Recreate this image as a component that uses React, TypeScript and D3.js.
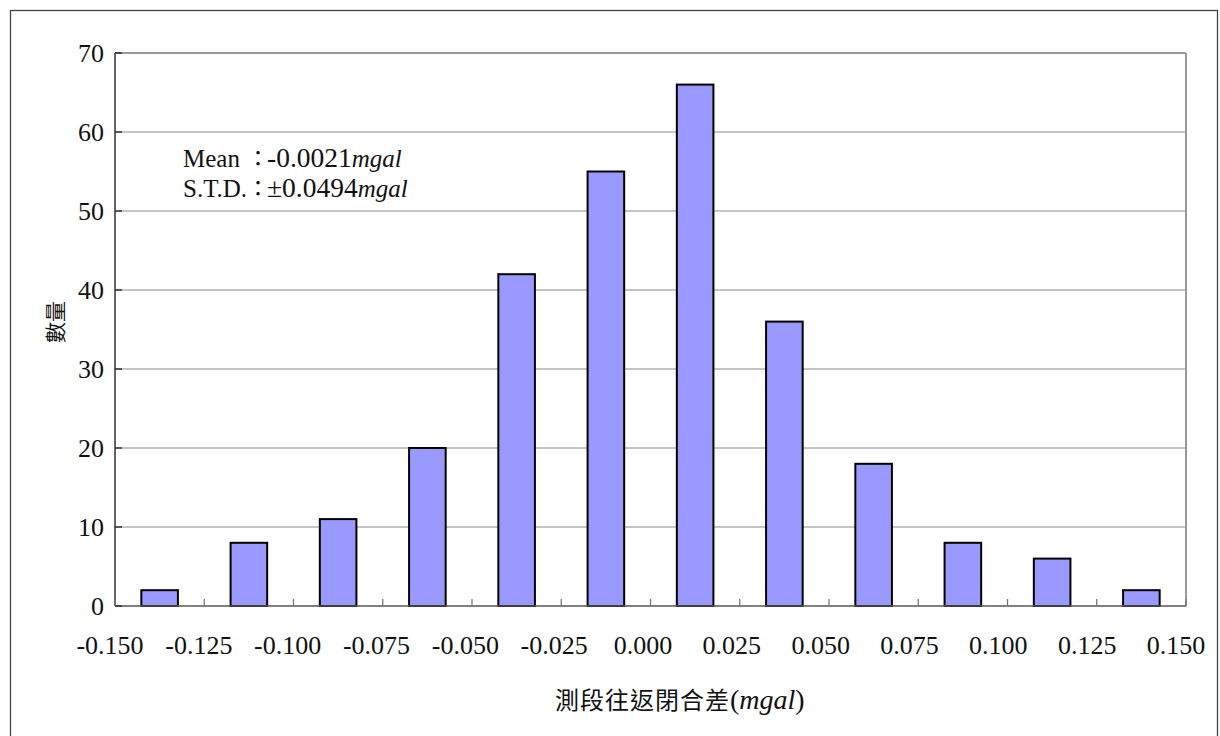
import * as d3 from "d3";
import { useEffect } from "react";

// bin lower edges (mgal) and counts
const binStarts = [-0.15, -0.125, -0.1, -0.075, -0.05, -0.025, 0, 0.025, 0.05, 0.075, 0.1, 0.125];
const counts = [2, 8, 11, 20, 42, 55, 66, 36, 18, 8, 6, 2];
const xTicks = [-0.15, -0.125, -0.1, -0.075, -0.05, -0.025, 0, 0.025, 0.05, 0.075, 0.1, 0.125, 0.15];
const yTicks = [0, 10, 20, 30, 40, 50, 60, 70];
const binWidth = 0.025;

const statNames = ["Mean", "S.T.D."];
const statValues = ["-0.0021", "±0.0494"];

const serif = "'Liberation Serif', 'Times New Roman', serif";
const cjk = "'Noto Sans CJK TC', 'Noto Sans CJK SC', sans-serif";

export default function App() {
  useEffect(() => {
    document.body.style.margin = "0";
  }, []);

  const width = 1220;
  const height = 736;
  const plot = { left: 115, right: 1186, top: 53, bottom: 606 };

  const x = d3.scaleLinear().domain([-0.15, 0.15]).range([plot.left, plot.right]);
  // tick labels sit slightly left of their ticks in the original
  const xLabel = d3.scaleLinear().domain([-0.15, 0.15]).range([plot.left - 5, plot.right - 10]);
  const y = d3.scaleLinear().domain([0, 70]).range([plot.bottom, plot.top]);

  const barW = (x(binWidth) - x(0)) * 0.41;

  return (
    <svg width={width} height={height} style={{ display: "block", background: "#fff" }}>
      {/* outer frame */}
      <rect x={10.5} y={10.5} width={1207} height={740} fill="none" stroke="#444" strokeWidth={1.3} />

      {/* gridlines */}
      {yTicks.filter((t) => t > 0).map((t) => (
        <line key={"g" + t} x1={plot.left} x2={plot.right} y1={y(t)} y2={y(t)} stroke="#8a8a8a" strokeWidth={1} />
      ))}
      {/* plot frame top/right */}
      <line x1={plot.left} x2={plot.right} y1={plot.top} y2={plot.top} stroke="#999" strokeWidth={2} />
      <line x1={plot.right} x2={plot.right} y1={plot.top} y2={plot.bottom} stroke="#999" strokeWidth={2} />

      {/* bars */}
      {binStarts.map((b, i) => {
        const cx = x(b + binWidth / 2);
        return (
          <rect
            key={"b" + i}
            x={cx - barW / 2}
            y={y(counts[i])}
            width={barW}
            height={y(0) - y(counts[i])}
            fill="#9999ff"
            stroke="#000"
            strokeWidth={2}
          />
        );
      })}

      {/* axes */}
      <line x1={plot.left} x2={plot.left} y1={plot.top} y2={plot.bottom} stroke="#333" strokeWidth={1.5} />
      <line x1={plot.left} x2={plot.right} y1={plot.bottom} y2={plot.bottom} stroke="#555" strokeWidth={1.5} />
      {yTicks.map((t) => (
        <line key={"yt" + t} x1={plot.left} x2={plot.left + 7} y1={y(t)} y2={y(t)} stroke="#333" strokeWidth={1.5} />
      ))}
      {xTicks.map((t) => (
        <line key={"xt" + t} x1={x(t)} x2={x(t)} y1={plot.bottom} y2={plot.bottom - 7} stroke="#777" strokeWidth={1.3} />
      ))}

      {/* tick labels */}
      {yTicks.map((t) => (
        <text key={"yl" + t} x={104} y={y(t) + 9} textAnchor="end" fontFamily={serif} fontSize={26} fill="#111">
          {t}
        </text>
      ))}
      {xTicks.map((t) => (
        <text key={"xl" + t} x={xLabel(t)} y={654} textAnchor="middle" fontFamily={serif} fontSize={26} fill="#111">
          {d3.format(".3f")(t).replace("−", "-")}
        </text>
      ))}

      {/* stats annotation */}
      {statNames.map((n, i) => (
        <g key={"s" + i} fill="#111">
          <text x={183} y={167 + i * 30} fontFamily={serif} fontSize={25}>
            {n}
          </text>
          <text x={258} y={166 + i * 30} textAnchor="middle" fontFamily={cjk} fontSize={22}>
            ：
          </text>
          <text x={267} y={167 + i * 30} fontFamily={serif} fontSize={25}>
            <tspan fontSize={27.5}>{statValues[i]}</tspan>
            <tspan fontStyle="italic">mgal</tspan>
          </text>
        </g>
      ))}

      {/* axis titles */}
      <text x={555} y={709} fontSize={24} fill="#111">
        <tspan fontFamily={cjk} letterSpacing={1}>測段往返閉合差</tspan>
        <tspan fontFamily={serif} fontSize={28}>(</tspan>
        <tspan fontFamily={serif} fontSize={28} fontStyle="italic">mgal</tspan>
        <tspan fontFamily={serif} fontSize={28}>)</tspan>
      </text>
      <text
        transform="translate(63,322) rotate(-90)"
        textAnchor="middle"
        fontFamily={cjk}
        fontSize={21}
        fill="#111"
      >
        數量
      </text>
    </svg>
  );
}
